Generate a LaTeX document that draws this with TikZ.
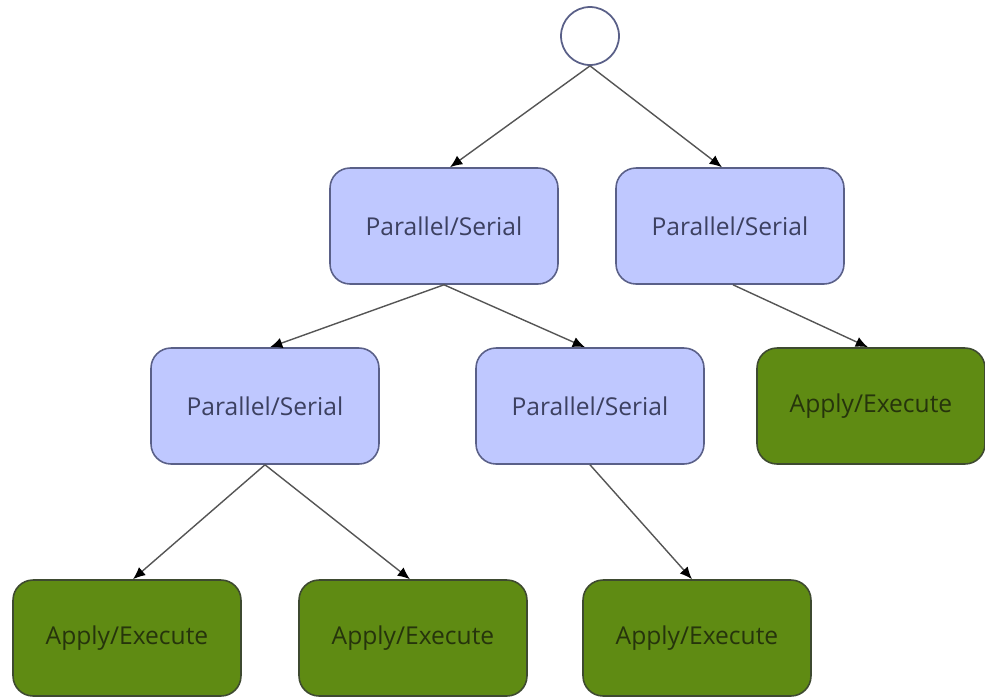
\documentclass[tikz,border=0pt]{standalone}
\usepackage{fontspec}
\setmainfont{Open Sans}
\usetikzlibrary{arrows.meta}

\definecolor{parfill}{HTML}{BFC8FF}
\definecolor{pardraw}{HTML}{5A6088}
\definecolor{partext}{HTML}{3C4060}
\definecolor{appfill}{HTML}{5F8B13}
\definecolor{appdraw}{HTML}{3E4A30}
\definecolor{apptext}{HTML}{26340C}
\definecolor{edgecol}{HTML}{555555}

\tikzset{
  box/.style={rounded corners=0.4cm, minimum width=4.56cm, minimum height=2.32cm,
    line width=0.9pt, font=\fontsize{14}{16}\selectfont},
  parbox/.style={box, draw=pardraw, fill=parfill, text=partext},
  appbox/.style={box, draw=appdraw, fill=appfill, text=apptext},
  link/.style={draw=edgecol, line width=0.8pt, -{Latex[length=7pt,width=6pt,color=black]}}
}

\begin{document}
\begin{tikzpicture}[x=0.02cm,y=-0.02cm]
		\useasboundingbox (0,0) rectangle (985,698);
		\node[circle,draw=pardraw,fill=white,line width=1pt,minimum size=1.16cm,inner sep=0pt] (root) at (590,36) {};
		\node[parbox] (ps1) at (444,226) {Parallel/Serial};
		\node[parbox] (ps2) at (730,226) {Parallel/Serial};
		\node[parbox] (ps3) at (265,406) {Parallel/Serial};
		\node[parbox] (ps4) at (590,406) {Parallel/Serial};
		\node[appbox] (ae1) at (871,406) {Apply/Execute};
		\node[appbox] (ae2) at (127,638) {Apply/Execute};
		\node[appbox] (ae3) at (413,638) {Apply/Execute};
		\node[appbox] (ae4) at (697,638) {Apply/Execute};
		\draw[link] (root.south) -- ([xshift=0.12cm]ps1.north);
		\draw[link] (root.south) -- ([xshift=-0.16cm]ps2.north);
		\draw[link] (ps1.south) -- ([xshift=0.1cm]ps3.north);
		\draw[link] (ps1.south) -- ([xshift=-0.1cm]ps4.north);
		\draw[link] ([xshift=0.06cm]ps2.south) -- ([xshift=-0.06cm]ae1.north);
		\draw[link] (ps3.south) -- ([xshift=0.12cm]ae2.north);
		\draw[link] (ps3.south) -- ([xshift=-0.06cm]ae3.north);
		\draw[link] (ps4.south) -- ([xshift=-0.1cm]ae4.north);
	\end{tikzpicture}
\end{document}
